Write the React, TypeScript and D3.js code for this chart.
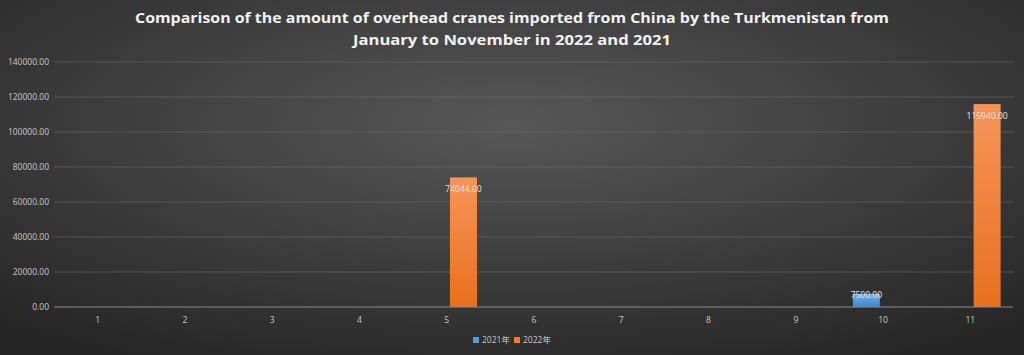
import React from "react"
import { scaleBand, scaleLinear } from "d3"

const categories = ["1", "2", "3", "4", "5", "6", "7", "8", "9", "10", "11"]
const seriesNames = ["2021年", "2022年"]
const values2021 = [0, 0, 0, 0, 0, 0, 0, 0, 0, 7500, 0]
const values2022 = [0, 0, 0, 0, 74044, 0, 0, 0, 0, 0, 115940]
const yTicks = [0, 20000, 40000, 60000, 80000, 100000, 120000, 140000]
const titleLines = [
  "Comparison of the amount of overhead cranes imported from China by the Turkmenistan from",
  "January to November in 2022 and 2021",
]

const W = 1024
const H = 355
const margin = { top: 62, right: 10, bottom: 48, left: 54 }

export default function App() {
  const x0 = scaleBand()
    .domain(categories)
    .range([margin.left, W - margin.right])
    .paddingInner(0.307)
    .paddingOuter(0.1535)

  const x1 = scaleBand()
    .domain(seriesNames)
    .range([0, x0.bandwidth()])
    .paddingInner(0.194)

  const y = scaleLinear()
    .domain([0, 140000])
    .range([H - margin.bottom, margin.top])

  const series = [
    { name: seriesNames[0], values: values2021, fill: "url(#gBlue)" },
    { name: seriesNames[1], values: values2022, fill: "url(#gOrange)" },
  ]

  const font = "'Segoe UI', 'Open Sans', 'Noto Sans CJK SC', sans-serif"

  return (
    <svg
      width={W}
      height={H}
      style={{ position: "absolute", left: 0, top: 0, display: "block" }}
    >
      <defs>
        <radialGradient id="bg" cx="50%" cy="35%" r="75%">
          <stop offset="0%" stopColor="#575757" />
          <stop offset="100%" stopColor="#262626" />
        </radialGradient>
        <linearGradient id="gOrange" x1="0" y1="0" x2="0" y2="1">
          <stop offset="0%" stopColor="#f6955a" />
          <stop offset="100%" stopColor="#e8701c" />
        </linearGradient>
        <linearGradient id="gBlue" x1="0" y1="0" x2="0" y2="1">
          <stop offset="0%" stopColor="#6eb0ea" />
          <stop offset="100%" stopColor="#3f86c8" />
        </linearGradient>
      </defs>
      <rect width={W} height={H} fill="url(#bg)" />

      {/* title */}
      {titleLines.map((t, i) => (
        <text
          key={i}
          x={W / 2}
          y={23 + i * 22}
          textAnchor="middle"
          fill="#f2f2f2"
          fontFamily={font}
          fontWeight={700}
          fontSize={14.5}
          textLength={i === 0 ? 754 : 318}
          lengthAdjust="spacingAndGlyphs"
        >
          {t}
        </text>
      ))}

      {/* gridlines + y labels */}
      {yTicks.map((v) => (
        <g key={v}>
          {v > 0 && (
            <line
              x1={margin.left}
              x2={W - margin.right}
              y1={y(v)}
              y2={y(v)}
              stroke="#6a6a6a"
              strokeWidth={0.6}
            />
          )}
          <text
            x={49}
            y={y(v)}
            dy="0.35em"
            textAnchor="end"
            fill="#c8c8c8"
            fontFamily={font}
            fontSize={8.5}
          >
            {v.toFixed(2)}
          </text>
        </g>
      ))}

      {/* bars */}
      {series.map((s) =>
        s.values.map((v, i) =>
          v > 0 ? (
            <rect
              key={s.name + i}
              x={x0(categories[i])! + x1(s.name)!}
              y={y(v)}
              width={x1.bandwidth()}
              height={y(0) - y(v)}
              fill={s.fill}
            />
          ) : null
        )
      )}

      {/* data labels */}
      {series.map((s) =>
        s.values.map((v, i) => {
          if (v <= 0) return null
          const h = y(0) - y(v)
          return (
            <text
              key={"l" + s.name + i}
              x={x0(categories[i])! + x1(s.name)! + x1.bandwidth() / 2}
              y={h > 30 ? y(v) + 12 : y(v) + 1}
              dy="0.35em"
              textAnchor="middle"
              fill="#e6e6e6"
              fontFamily={font}
              fontSize={8.5}
            >
              {v.toFixed(2)}
            </text>
          )
        })
      )}

      {/* x axis */}
      <line
        x1={margin.left}
        x2={W - margin.right - 1}
        y1={y(0)}
        y2={y(0)}
        stroke="#8a8a8a"
        strokeWidth={1.2}
      />
      {categories.map((c) => (
        <text
          key={c}
          x={x0(c)! + x0.bandwidth() / 2}
          y={320}
          dy="0.35em"
          textAnchor="middle"
          fill="#c8c8c8"
          fontFamily={font}
          fontSize={8.5}
        >
          {c}
        </text>
      ))}

      {/* legend */}
      {series.map((s, i) => (
        <g key={s.name} transform={`translate(${473 + i * 41},338)`}>
          <rect x={0} y={-1} width={6} height={6} fill={i === 0 ? "#5b9bd5" : "#ed7d31"} />
          <text
            x={9}
            y={2}
            dy="0.35em"
            fill="#c8c8c8"
            fontFamily={font}
            fontSize={8.5}
          >
            {s.name}
          </text>
        </g>
      ))}
    </svg>
  )
}
